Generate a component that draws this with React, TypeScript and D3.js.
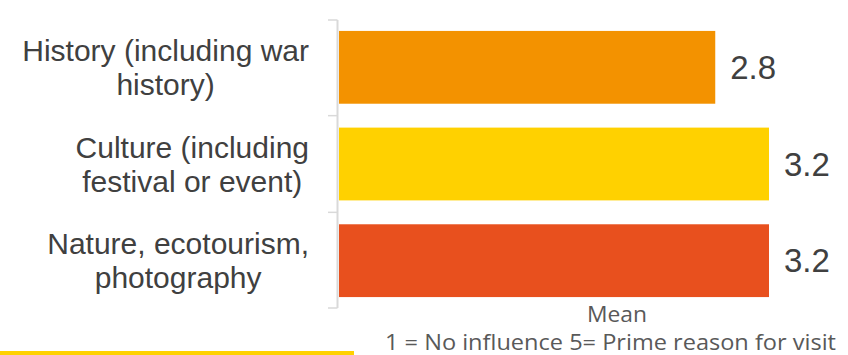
import React, { useEffect, useRef } from "react";
import * as d3 from "d3";

const categories: string[][] = [
  ["History (including war", "history)"],
  ["Culture (including", "festival or event)"],
  ["Nature, ecotourism,", "photography"],
];
const values: number[] = [2.8, 3.2, 3.2];
const barColors: string[] = ["#F39200", "#FFD100", "#E8501E"];
const axisTitle = "Mean";
const scaleNote = "1 = No influence 5= Prime reason for visit";

const W = 848;
const H = 355;

export default function App() {
  const ref = useRef<SVGSVGElement>(null);

  useEffect(() => {
    const svg = d3.select(ref.current);
    svg.selectAll("*").remove();

    const y = d3
      .scaleBand<number>()
      .domain(values.map((_, i) => i))
      .range([20, 308])
      .paddingInner(0.247)
      .paddingOuter(0.113);
    const x = d3.scaleLinear().domain([0, 3.2]).range([339, 769]);

    // bars
    svg
      .append("g")
      .selectAll("rect")
      .data(values)
      .join("rect")
      .attr("x", x(0))
      .attr("y", (_, i) => y(i)!)
      .attr("width", (d) => x(d) - x(0))
      .attr("height", y.bandwidth())
      .attr("fill", (_, i) => barColors[i]);

    // axis line and ticks at band boundaries
    const axisX = 337.5;
    const step = y.step();
    const firstBoundary = 20;
    const g = svg.append("g");
    g.append("line")
      .attr("x1", axisX)
      .attr("x2", axisX)
      .attr("y1", firstBoundary)
      .attr("y2", 308)
      .attr("stroke", "#d9d9d9")
      .attr("stroke-width", 2);
    const bounds = d3.range(values.length + 1).map((i) =>
      i === 0 ? firstBoundary : i === values.length ? 308 : y(i)! - (step - y.bandwidth()) / 2
    );
    g.selectAll("line.tick")
      .data(bounds)
      .join("line")
      .attr("class", "tick")
      .attr("x1", 328)
      .attr("x2", axisX)
      .attr("y1", (d) => d)
      .attr("y2", (d) => d)
      .attr("stroke", "#d9d9d9")
      .attr("stroke-width", 1.5);

    // category labels (block right-aligned, lines centered)
    const rightEdge = 309;
    const lineH = 34;
    categories.forEach((lines, i) => {
      const cy = y(i)! + y.bandwidth() / 2;
      const tg = svg.append("g");
      const texts = tg
        .selectAll("text")
        .data(lines)
        .join("text")
        .attr("y", (_, j) => cy + (j - (lines.length - 1) / 2) * lineH)
        .attr("dy", "0.35em")
        .attr("text-anchor", "middle")
        .attr("font-family", "'Liberation Sans', Arial, sans-serif")
        .attr("font-size", 30)
        .attr("fill", "#404040")
        .text((d) => d);
      let maxW = 0;
      texts.each(function () {
        maxW = Math.max(maxW, (this as SVGTextElement).getComputedTextLength());
      });
      texts.attr("x", rightEdge - maxW / 2);
    });

    // value labels
    svg
      .append("g")
      .selectAll("text")
      .data(values)
      .join("text")
      .attr("x", (d) => x(d) + 15)
      .attr("y", (_, i) => y(i)! + y.bandwidth() / 2)
      .attr("dy", "0.35em")
      .attr("font-family", "'Liberation Sans', Arial, sans-serif")
      .attr("font-size", 33)
      .attr("fill", "#404040")
      .text((d) => d.toFixed(1));

    // axis title and note
    svg
      .append("text")
      .attr("x", 617)
      .attr("y", 322)
      .attr("text-anchor", "middle")
      .attr("font-family", "'Open Sans', 'Noto Sans', sans-serif")
      .attr("font-size", 22)
      .attr("textLength", 60)
      .attr("lengthAdjust", "spacingAndGlyphs")
      .attr("fill", "#595959")
      .text(axisTitle);
    svg
      .append("text")
      .attr("x", 385)
      .attr("y", 350)
      .attr("textLength", 451)
      .attr("lengthAdjust", "spacingAndGlyphs")
      .attr("font-family", "'Open Sans', 'Noto Sans', sans-serif")
      .attr("font-size", 21)
      .attr("fill", "#595959")
      .text(scaleNote);

    // decorative yellow rule
    svg
      .append("rect")
      .attr("x", 0)
      .attr("y", 351)
      .attr("width", 354)
      .attr("height", 4)
      .attr("fill", "#FFD100");
  }, []);

  return (
    <div style={{ position: "absolute", left: 0, top: 0, width: W, height: H, background: "#fff" }}>
      <svg ref={ref} width={W} height={H} style={{ display: "block" }} />
    </div>
  );
}
